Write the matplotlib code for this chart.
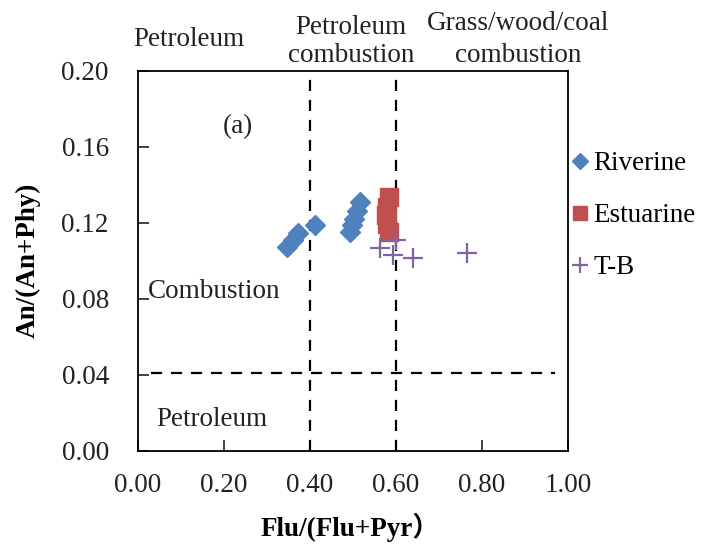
import matplotlib
matplotlib.use("Agg")
import matplotlib.pyplot as plt

# data
riverine_x = [0.346, 0.360, 0.373, 0.412, 0.493, 0.497, 0.502, 0.509, 0.516]
riverine_y = [0.1073, 0.1108, 0.1147, 0.1191, 0.1152, 0.1187, 0.1223, 0.1263, 0.1310]
estuarine_x = [0.583, 0.578, 0.577, 0.580, 0.583]
estuarine_y = [0.1337, 0.1284, 0.1240, 0.1196, 0.1152]
tb_x = [0.563, 0.600, 0.592, 0.639, 0.764]
tb_y = [0.1070, 0.1108, 0.1029, 0.1015, 0.1041]

x_ticks = [0.0, 0.2, 0.4, 0.6, 0.8, 1.0]
y_ticks = [0.00, 0.04, 0.08, 0.12, 0.16, 0.20]
x_bounds = [0.4, 0.6]
y_bound = 0.041

plt.rcParams['font.family'] = ['Liberation Serif', 'Noto Sans CJK SC']
FS = 19.5
W, H = 702, 555
fig = plt.figure(figsize=(W / 100, H / 100), dpi=100)
ax = fig.add_axes([138 / W, 1 - 451 / H, 430 / W, 380 / H])

ax.plot(riverine_x, riverine_y, 'D', color='#4F81BD', markersize=10, label='Riverine', zorder=3)
ax.plot(estuarine_x, estuarine_y, 's', color='#C0504D', markersize=13, label='Estuarine', zorder=3)
ax.plot(tb_x, tb_y, '+', color='#8064A2', markersize=15, markeredgewidth=1.6, label='T-B', zorder=4)

dash = (0, (5, 4))
for xb in x_bounds:
    ax.axvline(xb, color='black', lw=1.6, linestyle=dash, zorder=2)
ax.plot([0.03, 0.97], [y_bound, y_bound], color='black', lw=1.6, linestyle=dash, zorder=2)

ax.set_xlim(0, 1)
ax.set_ylim(0, 0.2)
ax.set_xticks(x_ticks)
ax.set_yticks(y_ticks)
ax.set_xticklabels(['%.2f' % v for v in x_ticks])
ax.set_yticklabels(['%.2f' % v for v in y_ticks])
ax.tick_params(direction='in', length=8, width=1.2, labelsize=FS, colors='#222222')
ax.tick_params(axis='x', pad=16)
ax.tick_params(axis='y', pad=21)
for s in ax.spines.values():
    s.set_linewidth(1.3)

ax.set_xlabel('Flu/(Flu+Pyr）', fontsize=FS, fontweight='bold', va='center')
ax.set_ylabel('An/(An+Phy)', fontsize=FS, fontweight='bold', va='center')
ax.xaxis.set_label_coords((350 - 138) / 430, -(527 - 451) / 380)
ax.yaxis.set_label_coords(-(138 - 28) / 430, (451 - 260) / 380)

def ftext(px, py, s, **kw):
    fig.text(px / W, 1 - py / H, s, ha='center', va='center', fontsize=FS,
             color='#222222', **kw)

# region names above the plot
ftext(189, 40, 'Petroleum')
ftext(351, 28, 'Petroleum')
ftext(351, 55, 'combustion')
ftext(518, 24, 'Grass/wood/coal')
ftext(518, 55, 'combustion')
# labels inside the plot
ftext(238, 127, '(a)')
ftext(214, 292, 'Combustion')
ftext(212, 420, 'Petroleum')

ax.legend(loc='upper left', bbox_to_anchor=(0.984, 0.818), frameon=False, fontsize=FS,
          markerscale=0.8, handlelength=0.6, handletextpad=0.18, labelspacing=1.0,
          borderaxespad=0)

fig.savefig('out.png', dpi=100)
